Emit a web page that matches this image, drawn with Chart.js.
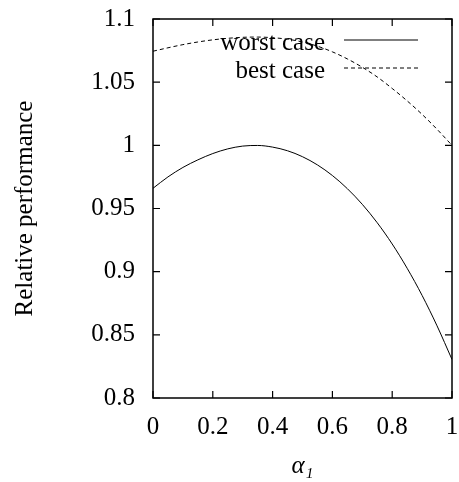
<!DOCTYPE html>
<html>
<head>
<meta charset="utf-8">
<script src="https://cdn.jsdelivr.net/npm/chart.js@4/dist/chart.umd.min.js"></script>
<style>
  html, body { margin: 0; padding: 0; background: #fff; }
  #c { display: block; }
</style>
</head>
<body>
<canvas id="c" width="459" height="482"></canvas>
<script>
// ---- data ----
const alphaValues = [0, 0.05, 0.10, 0.15, 0.20, 0.25, 0.30, 0.35, 0.40, 0.45, 0.50,
                     0.55, 0.60, 0.65, 0.70, 0.75, 0.80, 0.85, 0.90, 0.95, 1.00];
const worstCase = [0.9660, 0.9750, 0.9825, 0.9885, 0.9935, 0.9972, 0.9994, 0.9999, 0.9986, 0.9957, 0.9910,
                   0.9845, 0.9761, 0.9657, 0.9533, 0.9387, 0.9219, 0.9027, 0.8812, 0.8571, 0.8305];
const bestCase = [1.0745, 1.0772, 1.0797, 1.0818, 1.0835, 1.0847, 1.0855, 1.0857, 1.0852, 1.0840, 1.0818,
                  1.0785, 1.0740, 1.0684, 1.0618, 1.0541, 1.0450, 1.0352, 1.0245, 1.0127, 1.0000];
const seriesNames = ['worst case', 'best case'];
const xTickValues = [0, 0.2, 0.4, 0.6, 0.8, 1];
const yTickValues = [0.8, 0.85, 0.9, 0.95, 1, 1.05, 1.1];
const xTitle = 'α₁';
const yTitle = 'Relative performance';

const FONT = "'Liberation Serif', 'Times New Roman', serif";
const FSIZE = 25;

const toPts = (ys) => alphaValues.map((a, i) => ({ x: a, y: ys[i] }));

// frame + inward ticks on all four sides
const framePlugin = {
  id: 'frame',
  afterDatasetsDraw(chart) {
    const { ctx, chartArea: a, scales } = chart;
    ctx.save();
    ctx.strokeStyle = '#000';
    ctx.lineWidth = 1.5;
    ctx.strokeRect(a.left, a.top, a.right - a.left, a.bottom - a.top);
    ctx.lineWidth = 1.2;
    const L = 7;
    ctx.beginPath();
    xTickValues.forEach(v => {
      const px = scales.x.getPixelForValue(v);
      ctx.moveTo(px, a.bottom); ctx.lineTo(px, a.bottom - L);
      ctx.moveTo(px, a.top); ctx.lineTo(px, a.top + L);
    });
    yTickValues.forEach(v => {
      const py = scales.y.getPixelForValue(v);
      ctx.moveTo(a.left, py); ctx.lineTo(a.left + L, py);
      ctx.moveTo(a.right, py); ctx.lineTo(a.right - L, py);
    });
    ctx.stroke();
    ctx.restore();
  }
};

// legend: right-aligned text with line sample to its right
const legendPlugin = {
  id: 'gpLegend',
  afterDraw(chart) {
    const { ctx, chartArea: a } = chart;
    ctx.save();
    ctx.font = FSIZE + 'px ' + FONT;
    ctx.fillStyle = '#000';
    ctx.textAlign = 'right';
    ctx.textBaseline = 'alphabetic';
    chart.data.datasets.forEach((ds, i) => {
      const rowY = a.top + 21 + i * 28;
      const lineStart = a.right - 108;
      const lineEnd = a.right - 34;
      ctx.fillText(ds.label, lineStart - 19, rowY + 10);
      ctx.beginPath();
      ctx.setLineDash(ds.borderDash || []);
      ctx.strokeStyle = '#000';
      ctx.lineWidth = 1;
      ctx.moveTo(lineStart, rowY);
      ctx.lineTo(lineEnd, rowY);
      ctx.stroke();
    });
    ctx.restore();
  }
};

const fmt = (v) => String(+(+v).toFixed(2));

new Chart(document.getElementById('c'), {
  type: 'line',
  data: {
    datasets: [
      { label: seriesNames[0], data: toPts(worstCase), borderColor: '#000', borderWidth: 1,
        pointRadius: 0, cubicInterpolationMode: 'monotone', fill: false },
      { label: seriesNames[1], data: toPts(bestCase), borderColor: '#000', borderWidth: 1,
        borderDash: [4, 3], pointRadius: 0, cubicInterpolationMode: 'monotone', fill: false }
    ]
  },
  options: {
    responsive: false,
    animation: false,
    layout: { padding: { top: 19, right: 7, left: 0, bottom: 0 } },
    plugins: { legend: { display: false }, tooltip: { enabled: false } },
    scales: {
      x: {
        type: 'linear', min: 0, max: 1,
        afterBuildTicks: (s) => { s.ticks = xTickValues.map(v => ({ value: v })); },
        afterFit: (s) => { s.height = 84; s.paddingLeft = 0; s.paddingRight = 0; },
        grid: { display: false, drawTicks: false },
        border: { display: false },
        ticks: { color: '#000', padding: 14, font: { family: FONT, size: FSIZE }, callback: fmt, maxRotation: 0 },
        title: { display: true, text: xTitle, color: '#000',
                 font: { family: FONT, size: FSIZE, style: 'italic' }, padding: { top: 0, bottom: 1 } }
      },
      y: {
        type: 'linear', min: 0.8, max: 1.1,
        afterBuildTicks: (s) => { s.ticks = yTickValues.map(v => ({ value: v })); },
        afterFit: (s) => { s.width = 153; s.paddingTop = 0; s.paddingBottom = 0; },
        grid: { display: false, drawTicks: false },
        border: { display: false },
        ticks: { color: '#000', padding: 18, font: { family: FONT, size: FSIZE }, callback: fmt },
        title: { display: true, text: yTitle, color: '#000',
                 font: { family: FONT, size: FSIZE }, padding: { top: 10, bottom: 0 } }
      }
    }
  },
  plugins: [framePlugin, legendPlugin]
});
</script>
</body>
</html>
